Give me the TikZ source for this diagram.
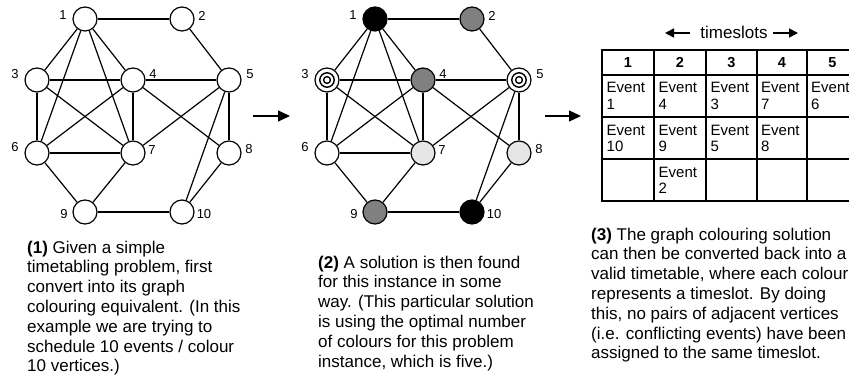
\documentclass[tikz,border=0pt]{standalone}
\usepackage{fontspec}
\setmainfont{Liberation Sans}
\usetikzlibrary{arrows.meta}
\tikzset{
  vtx/.style={circle, draw, line width=1.2pt, minimum size=24pt, inner sep=0pt, fill=white},
  lbl/.style={font=\fontsize{13}{13}\selectfont, inner sep=0pt},
  edge/.style={line width=1.2pt},
  ring/.style={line width=1.4pt},
  bigarrow/.style={line width=1.3pt, -{Triangle[length=12pt,width=11pt]}},
  smallarrow/.style={line width=1.6pt, -{Triangle[length=9pt,width=9pt]}},
  body/.style={anchor=base west, align=left, inner sep=0pt, font=\fontsize{17}{19.8}\selectfont},
  celltext/.style={anchor=base west, align=left, inner sep=0pt, font=\fontsize{15}{16.5}\selectfont},
  headtext/.style={anchor=base, inner sep=0pt, font=\fontsize{14.5}{15}\selectfont\bfseries},
  outer/.style={line width=2.4pt},
  inner/.style={line width=1.4pt}
}
\definecolor{midgray}{HTML}{808080}
\definecolor{lightgray}{HTML}{E6E6E6}
\begin{document}
\begin{tikzpicture}[x=1pt,y=-1pt]
\useasboundingbox (0,0) rectangle (849,377);

% ---------- Graph 1 ----------
\node[vtx] (a1) at (85,19) {};
\node[vtx] (a2) at (182,19) {};
\node[vtx] (a3) at (37,80) {};
\node[vtx] (a4) at (133,80) {};
\node[vtx] (a5) at (229,80) {};
\node[vtx] (a6) at (37,153) {};
\node[vtx] (a7) at (133,153) {};
\node[vtx] (a8) at (229,153) {};
\node[vtx] (a9) at (85,212) {};
\node[vtx] (a10) at (182,212) {};
\foreach \u/\v in {1/2,1/3,1/4,1/6,1/7,2/5,3/4,3/6,3/7,4/5,4/6,4/7,4/8,5/7,5/8,5/10,6/7,6/9,7/9,8/10,9/10}
  \draw[edge] (a\u) -- (a\v);
\node[lbl] (la1) at (63,15) {1};
\node[lbl] (la2) at (202,16) {2};
\node[lbl] (la3) at (15,74) {3};
\node[lbl] (la4) at (153,74) {4};
\node[lbl] (la5) at (250,74) {5};
\node[lbl] (la6) at (15,147) {6};
\node[lbl] (la7) at (152,150) {7};
\node[lbl] (la8) at (249,149) {8};
\node[lbl] (la9) at (64,214) {9};
\node[lbl] (la10) at (204,214) {10};

% ---------- Graph 2 ----------
\begin{scope}[xshift=290pt]
\node[vtx, fill=black] (b1) at (85,19) {};
\node[vtx, fill=midgray] (b2) at (182,19) {};
\node[vtx] (b3) at (37,80) {};
\node[vtx, fill=midgray] (b4) at (133,80) {};
\node[vtx] (b5) at (229,80) {};
\node[vtx] (b6) at (37,153) {};
\node[vtx, fill=lightgray] (b7) at (133,153) {};
\node[vtx, fill=lightgray] (b8) at (229,153) {};
\node[vtx, fill=midgray] (b9) at (85,212) {};
\node[vtx, fill=black] (b10) at (182,212) {};
\foreach \u/\v in {1/2,1/3,1/4,1/6,1/7,2/5,3/4,3/6,3/7,4/5,4/6,4/7,4/8,5/7,5/8,5/10,6/7,6/9,7/9,8/10,9/10}
  \draw[edge] (b\u) -- (b\v);
\draw[ring] (b3.center) circle (7.2) (b3.center) circle (3.4);
\draw[ring] (b5.center) circle (7.2) (b5.center) circle (3.4);
\node[lbl] (lb1) at (63,15) {1};
\node[lbl] (lb2) at (202,16) {2};
\node[lbl] (lb3) at (15,74) {3};
\node[lbl] (lb4) at (153,74) {4};
\node[lbl] (lb5) at (250,74) {5};
\node[lbl] (lb6) at (15,147) {6};
\node[lbl] (lb7) at (152,150) {7};
\node[lbl] (lb8) at (249,149) {8};
\node[lbl] (lb9) at (64,214) {9};
\node[lbl] (lb10) at (204,214) {10};
\end{scope}

% ---------- Arrows between stages ----------
\coordinate (p1s) at (253,116);
\coordinate (p1e) at (290,116);
\draw[bigarrow] (p1s) -- (p1e);
\coordinate (p2s) at (545,116);
\coordinate (p2e) at (581,116);
\draw[bigarrow] (p2s) -- (p2e);

% ---------- Timeslots header ----------
\node[inner sep=0pt, anchor=base, font=\fontsize{17}{19}\selectfont] (ts) at (734,39) {timeslots};
\coordinate (tl1) at (690,33);
\coordinate (tl2) at (665,33);
\coordinate (tr1) at (773,33);
\coordinate (tr2) at (798,33);
\draw[smallarrow] (tl1) -- (tl2);
\draw[smallarrow] (tr1) -- (tr2);

% ---------- Table ----------
\draw[inner] (602,75) -- (860,75);
\draw[inner] (602,117) -- (860,117);
\draw[inner] (602,159) -- (860,159);
\foreach \x in {654,706,757,807} \draw[inner] (\x,50) -- (\x,201);
\draw[outer] (602,50) rectangle (860,201);

\foreach \x/\n in {628/1,680/2,731.5/3,782/4,832.5/5}
  \node[headtext] (h\n) at (\x,68) {\n};

\node[celltext] (c11) at (606.5,109.5) {Event\\1};
\node[celltext] (c12) at (658.5,109.5) {Event\\4};
\node[celltext] (c13) at (710.5,109.5) {Event\\3};
\node[celltext] (c14) at (761,109.5) {Event\\7};
\node[celltext] (c15) at (811,109.5) {Event\\6};
\node[celltext] (c21) at (606.5,151.5) {Event\\10};
\node[celltext] (c22) at (658.5,151.5) {Event\\9};
\node[celltext] (c23) at (710.5,151.5) {Event\\5};
\node[celltext] (c24) at (761,151.5) {Event\\8};
\node[celltext] (c32) at (658.5,193.5) {Event\\2};

% ---------- Captions (anchored at the baseline of the last line) ----------
\node[body] (t1) at (27,371.8) {\textbf{(1)} Given a simple\\timetabling problem, first\\convert into its graph\\colouring equivalent. (In this\\example we are trying to\\schedule 10 events / colour\\10 vertices.)};
\node[body] (t2) at (318,367) {\textbf{(2)} A solution is then found\\for this instance in some\\way. (This particular solution\\is using the optimal number\\of colours for this problem\\instance, which is five.)};
\node[body] (t3) at (591,358.8) {\textbf{(3)} The graph colouring solution\\can then be converted back into a\\valid timetable, where each colour\\represents a timeslot. By doing\\this, no pairs of adjacent vertices\\(i.e. conflicting events) have been\\assigned to the same timeslot.};
\end{tikzpicture}
\end{document}
